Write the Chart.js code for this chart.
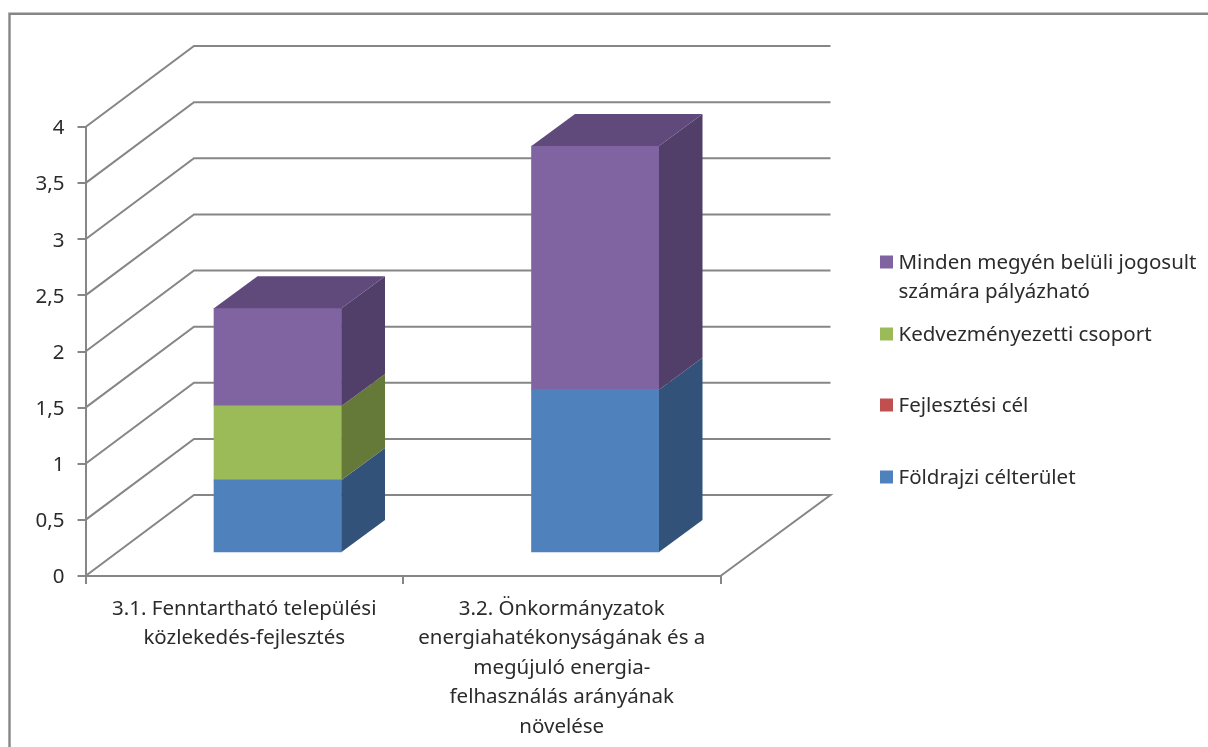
<!DOCTYPE html>
<html><head><meta charset="utf-8">
<style>html,body{margin:0;padding:0;background:#fff}canvas{display:block}</style>
<script src="https://cdn.jsdelivr.net/npm/chart.js@4"></script>
</head><body>
<canvas id="c" width="1208" height="747"></canvas>
<script>
const categories = [
  ["3.1. Fenntartható települési", "közlekedés-fejlesztés"],
  ["3.2. Önkormányzatok", "energiahatékonyságának és a", "megújuló energia-", "felhasználás arányának", "növelése"]
];
const foldrajzi = [0.65, 1.455];
const fejlesztesi = [0, 0];
const kedvezmenyezetti = [0.66, 0];
const minden = [0.87, 2.17];
const legendLines = [
  ["Minden megyén belüli jogosult", "számára pályázható"],
  ["Kedvezményezetti csoport"],
  ["Fejlesztési cél"],
  ["Földrajzi célterület"]
];
const FONT = '"Noto Sans"';
const FS = 20.5;
const TEXT = '#2b2b2b', LINE = '#868686';
const WALL = {dx: 108.5, dy: -81};
const BAR = {sx: 33.5, sy: -23, dx: 43.5, dy: -32};
const shades = {
  '#4f81bd': {side: '#32527a', top: '#3b5f8e'},
  '#c0504d': {side: '#7c3331', top: '#8f3b39'},
  '#9bbb59': {side: '#657a39', top: '#748d43'},
  '#8064a2': {side: '#523f69', top: '#604a7b'}
};
const legendY = [[263, 292], [335], [406], [478]];
const legendColors = ['#8064a2', '#9bbb59', '#c0504d', '#4f81bd'];

const scene3d = {
  id: 'scene3d',
  beforeDraw(chart) {
    const c = chart.ctx;
    c.save();
    c.fillStyle = '#fff'; c.fillRect(0, 0, chart.width, chart.height);
    c.strokeStyle = LINE; c.lineWidth = 2.4;
    c.beginPath(); c.moveTo(9.5, 747); c.lineTo(9.5, 13.8); c.lineTo(1208, 13.8); c.stroke();
    c.restore();
  },
  beforeDatasetsDraw(chart) {
    const c = chart.ctx, y = chart.scales.y, a = chart.chartArea;
    c.save();
    c.strokeStyle = LINE; c.lineWidth = 2; c.lineJoin = 'miter';
    y.ticks.forEach(t => {
      const p = y.getPixelForValue(t.value);
      c.beginPath();
      c.moveTo(a.left, p);
      c.lineTo(a.left + WALL.dx, p + WALL.dy);
      c.lineTo(a.right + WALL.dx + 1.5, p + WALL.dy);
      if (t.value === 0) c.lineTo(a.right, p);
      c.stroke();
    });
    c.restore();
    c.save();
    c.translate(BAR.sx, BAR.sy);
  },
  afterDatasetsDraw(chart) {
    const c = chart.ctx;
    chart.data.datasets.forEach((ds, i) => {
      const s = shades[ds.backgroundColor];
      chart.getDatasetMeta(i).data.forEach((el, j) => {
        if (!ds.data[j]) return;
        const p = el.getProps(['x', 'y', 'base', 'width'], true);
        const r = p.x + p.width / 2;
        c.fillStyle = s.side;
        c.beginPath();
        c.moveTo(r, p.base); c.lineTo(r + BAR.dx, p.base + BAR.dy);
        c.lineTo(r + BAR.dx, p.y + BAR.dy); c.lineTo(r, p.y); c.closePath(); c.fill();
      });
    });
    chart.data.datasets.forEach((ds, i) => {
      const s = shades[ds.backgroundColor];
      const next = chart.data.datasets.slice(i + 1);
      chart.getDatasetMeta(i).data.forEach((el, j) => {
        if (!ds.data[j] || next.some(n => n.data[j])) return;
        const p = el.getProps(['x', 'y', 'width'], true);
        const l = p.x - p.width / 2, r = p.x + p.width / 2;
        c.fillStyle = s.top;
        c.beginPath();
        c.moveTo(l, p.y); c.lineTo(r, p.y);
        c.lineTo(r + BAR.dx, p.y + BAR.dy); c.lineTo(l + BAR.dx, p.y + BAR.dy); c.closePath(); c.fill();
      });
    });
    c.restore();
  },
  afterDraw(chart) {
    const c = chart.ctx;
    c.save();
    c.font = FS + 'px ' + FONT; c.fillStyle = TEXT;
    c.textBaseline = 'middle'; c.textAlign = 'left';
    legendLines.forEach((lines, i) => {
      c.fillStyle = legendColors[i];
      c.fillRect(880, legendY[i][0] - 7.5, 13, 13);
      c.fillStyle = TEXT;
      lines.forEach((t, k) => c.fillText(t, 898.5, legendY[i][k]));
    });
    c.restore();
  }
};

new Chart(document.getElementById('c'), {
  type: 'bar',
  data: {
    labels: categories,
    datasets: [
      {label: 'Földrajzi célterület', data: foldrajzi, backgroundColor: '#4f81bd'},
      {label: 'Fejlesztési cél', data: fejlesztesi, backgroundColor: '#c0504d'},
      {label: 'Kedvezményezetti csoport', data: kedvezmenyezetti, backgroundColor: '#9bbb59'},
      {label: 'Minden megyén belüli jogosult számára pályázható', data: minden, backgroundColor: '#8064a2'}
    ]
  },
  options: {
    responsive: false, animation: false, devicePixelRatio: 1,
    layout: {padding: {left: 0, right: 487.5, top: 127, bottom: 0}},
    datasets: {bar: {barThickness: 127.5, borderWidth: 0}},
    plugins: {legend: {display: false}, tooltip: {enabled: false}, title: {display: false}},
    scales: {
      x: {
        stacked: true,
        afterFit: s => { s.height = 171; },
        grid: {drawOnChartArea: false, offset: true, color: LINE, lineWidth: 2, tickLength: 8, tickColor: LINE},
        border: {color: LINE, width: 2},
        ticks: {color: TEXT, font: {family: FONT, size: FS, lineHeight: 1.44}, padding: 10, maxRotation: 0, autoSkip: false}
      },
      y: {
        stacked: true, min: 0, max: 4,
        afterFit: s => { s.width = 85.5; },
        grid: {drawOnChartArea: false, color: LINE, lineWidth: 2, tickLength: 8, tickColor: LINE},
        border: {color: LINE, width: 2},
        ticks: {stepSize: 0.5, color: TEXT, font: {family: FONT, size: FS}, padding: 13, labelOffset: 1.5,
          callback: v => String(v).replace('.', ',')}
      }
    }
  },
  plugins: [scene3d]
});
</script>
</body></html>
